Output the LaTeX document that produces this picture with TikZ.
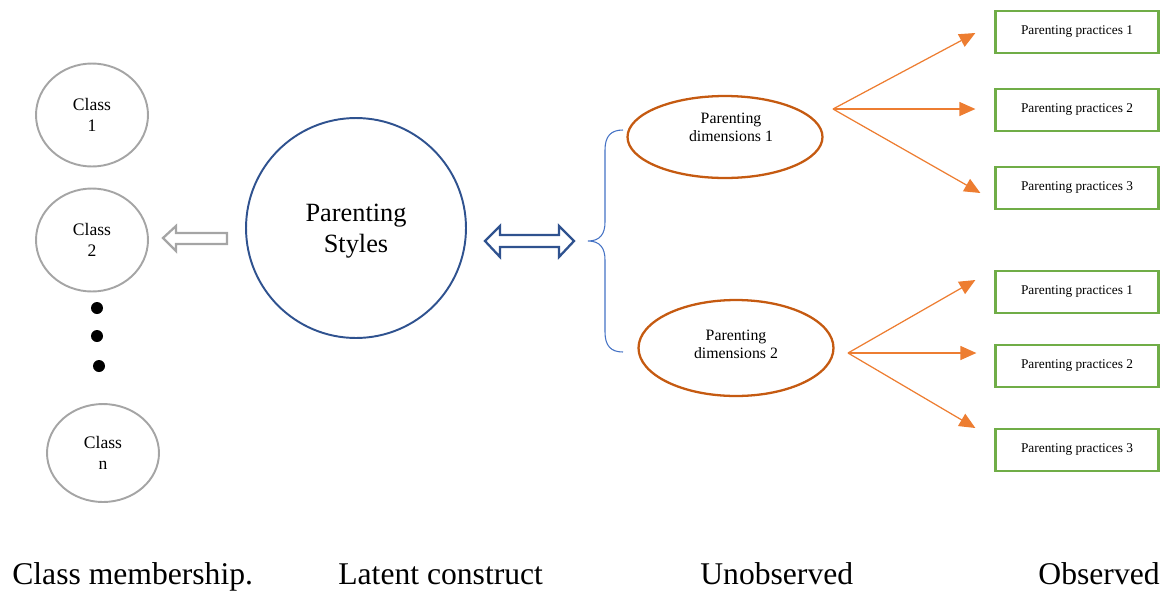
\documentclass[tikz,border=0pt]{standalone}
\usepackage{fontspec}
\setmainfont{Liberation Serif}
\usetikzlibrary{shapes.geometric,arrows.meta}
\definecolor{cgray}{RGB}{165,165,165}
\definecolor{cblue}{RGB}{47,82,143}
\definecolor{cbrace}{RGB}{68,114,196}
\definecolor{cbrown}{RGB}{197,90,17}
\definecolor{corange}{RGB}{237,125,49}
\definecolor{cgreen}{RGB}{112,173,71}
\begin{document}
\begin{tikzpicture}[x=0.02cm,y=-0.02cm,
  classnode/.style={ellipse,draw=cgray,line width=1.1pt,minimum width=2.24cm,minimum height=2.06cm,inner sep=0pt,align=center,font=\fontsize{10}{12}\selectfont},
  dimnode/.style={ellipse,draw=cbrown,line width=1.3pt,minimum width=3.9cm,inner sep=0pt},
  dimtext/.style={inner sep=0pt,align=center,font=\fontsize{9}{10.3}\selectfont},
  practice/.style={rectangle,draw=cgreen,line width=1.3pt,minimum width=3.26cm,minimum height=0.84cm,inner sep=0pt,font=\fontsize{7.6}{9}\selectfont},
  dotnode/.style={circle,fill=black,minimum size=0.24cm,inner sep=0pt},
  oarrow/.style={corange,line width=0.7pt,-{Triangle[length=0.32cm,width=0.28cm]}},
  bottomlabel/.style={inner sep=0pt,font=\fontsize{18}{21}\selectfont}]
\useasboundingbox (0,0) rectangle (1165,592);
% class nodes
\node[classnode] (c1) at (92,115) {Class\\1};
\node[classnode] (c2) at (92,240) {Class\\2};
\node[dotnode] (d1) at (97,308) {};
\node[dotnode] (d2) at (97,336) {};
\node[dotnode] (d3) at (99,366) {};
\node[classnode,minimum height=1.96cm] (cn) at (103,453) {Class\\n};
% latent
\node[circle,draw=cblue,line width=1.1pt,minimum size=4.4cm,inner sep=0pt] (ps) at (356,228) {};
\node[inner sep=0pt,align=center,font=\fontsize{15}{17.5}\selectfont] (pst) at (356,231) {Parenting\\Styles};
% gray hollow arrow
\draw[cgray,line width=1.3pt,line join=miter] (163,238) -- (176,226) -- (176,233) -- (227,233) -- (227,244) -- (176,244) -- (176,251) -- cycle;
% blue double arrow
\draw[cblue,line width=1.3pt,line join=miter] (485,241) -- (500,226) -- (500,235) -- (559,235) -- (559,226) -- (574,241) -- (559,257) -- (559,247) -- (500,247) -- (500,257) -- cycle;
% brace
\draw[cbrace,line width=0.6pt] (623,130) .. controls (611,130) and (605,136) .. (605,150) -- (605,222) .. controls (605,234) and (600,241) .. (588,241) .. controls (600,241) and (605,248) .. (605,260) -- (605,332) .. controls (605,346) and (611,352) .. (623,352);
% dimensions
\node[dimnode,minimum height=1.64cm] (pd1) at (725,137) {};
\node[dimtext] (pd1t) at (731,127) {Parenting\\dimensions 1};
\node[dimnode,minimum height=1.92cm] (pd2) at (736,348) {};
\node[dimtext] (pd2t) at (736,344) {Parenting\\dimensions 2};
% practices
\node[practice] (p1) at (1077,32) {Parenting practices 1};
\node[practice] (p2) at (1077,110) {Parenting practices 2};
\node[practice] (p3) at (1077,188) {Parenting practices 3};
\node[practice] (p4) at (1077,292) {Parenting practices 1};
\node[practice] (p5) at (1077,366) {Parenting practices 2};
\node[practice] (p6) at (1077,450) {Parenting practices 3};
% arrow origins
\coordinate (o1) at (833,109);
\coordinate (o2) at (848,353);
\draw[oarrow] (o1) -- ([shift={(-19,1)}]p1.west);
\draw[oarrow] (o1) -- ([shift={(-19,-1)}]p2.west);
\draw[oarrow] (o1) -- ([shift={(-14,5)}]p3.west);
\draw[oarrow] (o2) -- ([shift={(-19,-12)}]p4.west);
\draw[oarrow] (o2) -- ([shift={(-18,-13)}]p5.west);
\draw[oarrow] (o2) -- ([shift={(-19,-22)}]p6.west);
% bottom labels
\node[bottomlabel,anchor=base west] (l1) at (12,584) {Class membership.};
\node[bottomlabel,anchor=base west] (l2) at (338,584) {Latent construct};
\node[bottomlabel,anchor=base west] (l3) at (700,584) {Unobserved};
\node[bottomlabel,anchor=base east] (l4) at (1160,584) {Observed};
\end{tikzpicture}
\end{document}
